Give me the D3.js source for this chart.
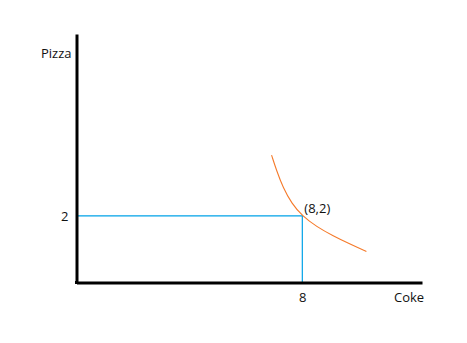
<!DOCTYPE html>
<html>
<head>
<meta charset="utf-8">
<script src="https://cdn.jsdelivr.net/npm/d3@7"></script>
<style>
  html, body { margin: 0; padding: 0; background: #fff; }
  svg { display: block; }
  text { font-family: "Open Sans", "Noto Sans", sans-serif; fill: #111; }
</style>
</head>
<body>
<svg id="chart" width="467" height="343"></svg>
<script>
// Data
const xLabel = "Coke";
const yLabel = "Pizza";
const xTicks = [8];
const yTicks = [2];
const point = [8, 2];
const pointLabel = "(8,2)";
const curveX = [6.91, 7.09, 7.32, 7.62, 8, 8.5, 9.09, 9.7, 10.27];
const curveY = [3.83, 3.36, 2.85, 2.38, 2.0, 1.68, 1.40, 1.15, 0.93];

const svg = d3.select("#chart");
const x = d3.scaleLinear().domain([0, 12.24]).range([76.5, 422]);
const y = d3.scaleLinear().domain([0, 7.47]).range([282.5, 34]);

// Guide lines
svg.append("path")
  .attr("d", d3.line()([[x(0), y(point[1])], [x(point[0]), y(point[1])], [x(point[0]), y(0)]]))
  .attr("fill", "none").attr("stroke", "#00a2e8").attr("stroke-width", 1.2);

// Curve
const pts = curveX.map((v, i) => [x(v), y(curveY[i])]);
svg.append("path")
  .attr("d", d3.line().curve(d3.curveBasis)(pts))
  .attr("fill", "none").attr("stroke", "#f57a2a").attr("stroke-width", 1.1);

// Axes
const yAxis = svg.append("g").attr("transform", `translate(${x(0)},0)`)
  .call(d3.axisLeft(y).tickValues(yTicks).tickSize(0).tickPadding(8).tickFormat(d3.format("d")));
const xAxis = svg.append("g").attr("transform", `translate(0,${y(0)})`)
  .call(d3.axisBottom(x).tickValues(xTicks).tickSize(0).tickPadding(10).tickFormat(d3.format("d")));
[xAxis, yAxis].forEach(g => {
  g.select(".domain").attr("stroke", "#000").attr("stroke-width", 3);
  g.selectAll("text").attr("font-size", 13).attr("fill", "#111")
    .attr("font-family", '"Open Sans", "Noto Sans", sans-serif');
});
svg.append("line").attr("x1", 75).attr("x2", 78).attr("y1", y(0)).attr("y2", y(0))
  .attr("stroke", "#000").attr("stroke-width", 3);

// Labels
svg.append("text").attr("x", 41).attr("y", 58).attr("font-size", 13).text(yLabel);
svg.append("text").attr("x", 394).attr("y", 301.5).attr("font-size", 13).text(xLabel);
svg.append("text").attr("x", x(point[0]) + 2).attr("y", 213).attr("font-size", 13).text(pointLabel);
</script>
</body>
</html>
